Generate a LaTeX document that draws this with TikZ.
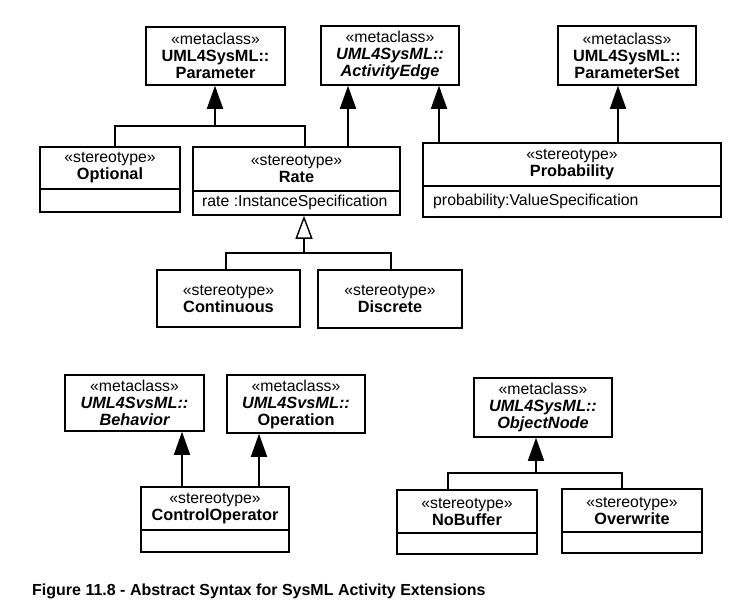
\documentclass[tikz,border=0pt]{standalone}
\usepackage{fontspec}
\setmainfont{Liberation Sans}
\usetikzlibrary{arrows.meta}
\tikzset{
  box/.style={draw, line width=1.5pt, inner sep=0pt, align=center, fill=white,
    font=\fontsize{15.8}{17}\selectfont},
  comp/.style={draw, line width=1.5pt, inner sep=0pt, fill=white,
    font=\fontsize{15.8}{17}\selectfont},
  attr/.style={anchor=west, inner sep=0pt, font=\fontsize{15.8}{17}\selectfont},
  conn/.style={line width=1.6pt},
  gen/.style={line width=1.6pt, -{Triangle[width=16pt,length=23pt]}},
  hgen/.style={line width=1.4pt, -{Triangle[open,width=17pt,length=23pt,fill=white]}},
}
\newcommand{\nm}[1]{{\fontsize{16.3}{17}\selectfont\bfseries #1}}
\newcommand{\nmi}[1]{{\fontsize{16.3}{17}\selectfont\bfseries\itshape #1}}
\begin{document}
\begin{tikzpicture}[x=1pt,y=-1pt]
\useasboundingbox (0,0) rectangle (734,610);
% metaclasses top
\node[box, minimum width=139pt, minimum height=58pt] (param) at (215.5,56) {«metaclass»\\\nm{UML4SysML::}\\\nm{Parameter}};
\node[box, minimum width=138pt, minimum height=59pt] (aedge) at (390,55.5) {«metaclass»\\\nmi{UML4SysML::}\\\nmi{ActivityEdge}};
\node[box, minimum width=138pt, minimum height=59pt] (pset) at (627,55.5) {«metaclass»\\\nm{UML4SysML::}\\\nm{ParameterSet}};
% Optional
\node[box, minimum width=140pt, minimum height=42pt] (opth) at (110,168) {«stereotype»\\\nm{Optional}};
\node[comp, minimum width=140pt, minimum height=23pt] (optc) at (110,200.5) {};
% Rate
\node[box, minimum width=207pt, minimum height=44pt] (rateh) at (296.5,169) {«stereotype»\\\nm{Rate}};
\node[comp, minimum width=207pt, minimum height=24pt] (ratec) at (296.5,203) {};
\node[attr] (ratea) at (202,202.5) {rate :InstanceSpecification};
% Probability
\node[box, minimum width=298pt, minimum height=43pt] (probh) at (572,164.5) {«stereotype»\\\nm{Probability}};
\node[comp, minimum width=298pt, minimum height=31pt] (probc) at (572,201.5) {};
\node[attr] (proba) at (433,201) {probability:ValueSpecification};
% Continuous, Discrete
\node[box, minimum width=143pt, minimum height=57pt] (cont) at (228.5,298.5) {«stereotype»\\\nm{Continuous}};
\node[box, minimum width=144pt, minimum height=58pt] (disc) at (390,299) {«stereotype»\\\nm{Discrete}};
% bottom-left
\node[box, minimum width=139pt, minimum height=56pt] (behav) at (134.5,403) {«metaclass»\\\nmi{UML4SvsML::}\\\nmi{Behavior}};
\node[box, minimum width=138pt, minimum height=58pt] (oper) at (296,404) {«metaclass»\\\nmi{UML4SvsML::}\\\nm{Operation}};
\node[box, minimum width=148pt, minimum height=43pt] (ctrlh) at (215,508.5) {«stereotype»\\\nm{ControlOperator}};
\node[comp, minimum width=148pt, minimum height=22pt] (ctrlc) at (215,541) {};
% bottom-right
\node[box, minimum width=138pt, minimum height=59pt] (objn) at (543,407.5) {«metaclass»\\\nmi{UML4SysML::}\\\nmi{ObjectNode}};
\node[box, minimum width=140pt, minimum height=43pt] (nobh) at (467,511.5) {«stereotype»\\\nm{NoBuffer}};
\node[comp, minimum width=140pt, minimum height=21pt] (nobc) at (467,543.5) {};
\node[box, minimum width=140pt, minimum height=43pt] (ovwh) at (632,510.5) {«stereotype»\\\nm{Overwrite}};
\node[comp, minimum width=140pt, minimum height=21pt] (ovwc) at (632,542.5) {};
% caption
\node[anchor=west, inner sep=0pt, font=\fontsize{16}{18}\selectfont\bfseries] (cap) at (32,591.5) {Figure 11.8 - Abstract Syntax for SysML Activity Extensions};
% connector helper coordinates
\coordinate (b1) at (115,126);
\coordinate (b2) at (305,126);
\coordinate (b0) at (215,126);
\coordinate (a1) at (348,0);
\coordinate (a2) at (439,0);
\coordinate (a3) at (618,0);
\coordinate (c1) at (226,253);
\coordinate (c2) at (391,253);
\coordinate (c0) at (304,253);
\coordinate (d1) at (182,0);
\coordinate (d2) at (259,0);
\coordinate (e1) at (448,473);
\coordinate (e2) at (622,473);
\coordinate (e0) at (536,473);
% connectors
\draw[conn] (opth.north -| b1) -- (b1) -- (b2) -- (rateh.north -| b2);
\draw[gen] (b0) -- (param.south -| b0);
\draw[gen] (rateh.north -| a1) -- (aedge.south -| a1);
\draw[gen] (probh.north -| a2) -- (aedge.south -| a2);
\draw[gen] (probh.north -| a3) -- (pset.south -| a3);
\draw[conn] (cont.north -| c1) -- (c1) -- (c2) -- (disc.north -| c2);
\draw[hgen] (c0) -- (ratec.south -| c0);
\draw[gen] (ctrlh.north -| d1) -- (behav.south -| d1);
\draw[gen] (ctrlh.north -| d2) -- (oper.south -| d2);
\draw[conn] (nobh.north -| e1) -- (e1) -- (e2) -- (ovwh.north -| e2);
\draw[gen] (e0) -- (objn.south -| e0);
\end{tikzpicture}
\end{document}
